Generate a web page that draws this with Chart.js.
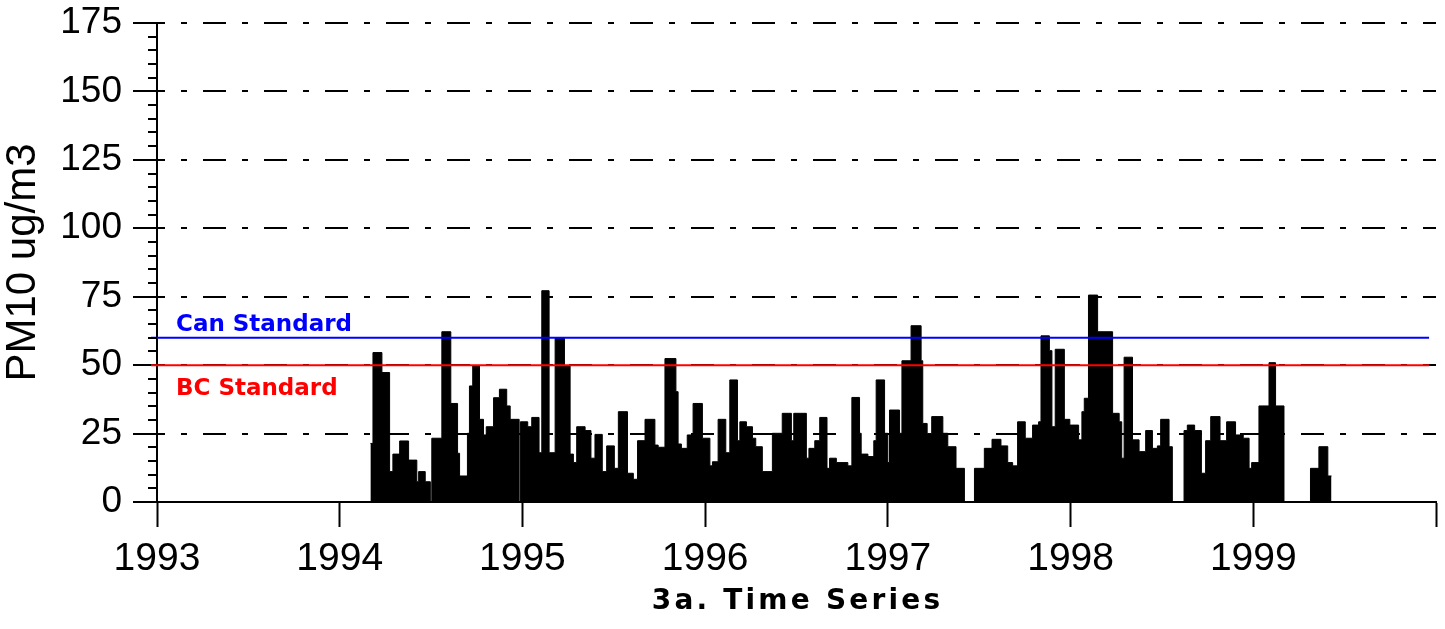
<!DOCTYPE html>
<html>
<head>
<meta charset="utf-8">
<title>PM10 Time Series</title>
<script src="https://cdn.jsdelivr.net/npm/chart.js@4.4.1/dist/chart.umd.min.js"></script>
<style>
  html, body { margin: 0; padding: 0; background: #ffffff; }
  #wrap { width: 1445px; height: 629px; }
</style>
</head>
<body>
<div id="wrap"><canvas id="pmChart" width="1445" height="629"></canvas></div>
<script>
// axis ticks
const yearTicks = [1993, 1994, 1995, 1996, 1997, 1998, 1999, 2000];
const yearLabels = ['1993', '1994', '1995', '1996', '1997', '1998', '1999', ''];
const pmTicks = [0, 25, 50, 75, 100, 125, 150, 175];

// standards (ug/m3)
const canStandard = 60;
const bcStandard = 50;
const standardSpan = [1992.967, 1999.962];

// start of each sampling step (decimal year) and its PM10 value
const stepStart = [
  1994.168, 1994.182, 1994.231, 1994.273, 1994.291, 1994.328, 1994.377, 1994.422, 1994.432, 1994.468,
  1994.496, 1994.504, 1994.559, 1994.608, 1994.645, 1994.656, 1994.699, 1994.710, 1994.728, 1994.765,
  1994.787, 1994.802, 1994.842, 1994.874, 1994.914, 1994.933, 1994.982, 1994.989, 1995.029, 1995.051,
  1995.091, 1995.106, 1995.146, 1995.179, 1995.230, 1995.261, 1995.279, 1995.297, 1995.343, 1995.375,
  1995.397, 1995.437, 1995.461, 1995.503, 1995.525, 1995.575, 1995.607, 1995.630, 1995.671, 1995.725,
  1995.743, 1995.780, 1995.840, 1995.852, 1995.870, 1995.902, 1995.934, 1995.985, 1996.026, 1996.040,
  1996.071, 1996.113, 1996.135, 1996.177, 1996.190, 1996.226, 1996.259, 1996.277, 1996.313, 1996.368,
  1996.422, 1996.472, 1996.485, 1996.554, 1996.568, 1996.600, 1996.627, 1996.667, 1996.681, 1996.718,
  1996.781, 1996.803, 1996.845, 1996.854, 1996.891, 1996.923, 1996.936, 1996.982, 1997.000, 1997.009,
  1997.064, 1997.077, 1997.127, 1997.182, 1997.191, 1997.215, 1997.240, 1997.301, 1997.328, 1997.373,
  1997.419, 1997.474, 1997.528, 1997.570, 1997.619, 1997.656, 1997.683, 1997.710, 1997.752, 1997.792,
  1997.825, 1997.838, 1997.884, 1997.898, 1997.916, 1997.966, 1997.996, 1998.044, 1998.062, 1998.075,
  1998.098, 1998.148, 1998.230, 1998.266, 1998.280, 1998.293, 1998.339, 1998.375, 1998.411, 1998.448,
  1998.475, 1998.493, 1998.539, 1998.557, 1998.621, 1998.639, 1998.679, 1998.716, 1998.739, 1998.767,
  1998.818, 1998.854, 1998.903, 1998.945, 1998.977, 1998.991, 1999.031, 1999.086, 1999.122, 1999.168,
  1999.313, 1999.359, 1999.408
];
const pm10 = [
  21.4, 54.6, 47.3, 11.1, 17.5, 22.3, 15.3, 7.4, 11.1, 7.4,
  0, 23.3, 62.2, 36.0, 17.8, 9.5, 25.1, 42.4, 49.7, 30.2,
  24.5, 27.5, 38.1, 41.2, 35.1, 30.2, 0, 29.3, 27.5, 30.9,
  18.0, 77.2, 18.0, 59.8, 49.7, 17.5, 14.4, 27.5, 26.1, 16.0,
  24.7, 11.1, 20.5, 12.3, 33.0, 10.5, 8.3, 22.4, 30.2, 20.8,
  20.0, 52.4, 40.3, 21.2, 19.6, 24.5, 36.0, 23.3, 13.2, 14.7,
  30.2, 18.0, 44.6, 22.4, 29.3, 27.5, 23.3, 20.2, 11.1, 25.1,
  32.4, 22.4, 32.4, 16.0, 19.6, 22.4, 30.9, 12.3, 16.0, 14.4,
  13.2, 38.2, 25.1, 17.5, 16.6, 22.4, 44.6, 25.1, 14.4, 33.6,
  25.1, 51.6, 64.4, 51.6, 28.7, 25.0, 31.2, 25.1, 20.2, 12.3,
  0, 12.3, 19.6, 22.9, 20.5, 14.4, 13.2, 29.3, 23.3, 28.1,
  29.3, 60.7, 55.3, 27.5, 55.8, 30.2, 28.1, 22.7, 33.0, 37.9,
  75.6, 62.2, 32.4, 29.3, 16.0, 52.9, 22.7, 18.4, 26.1, 19.6,
  20.5, 30.2, 20.2, 0, 26.1, 28.1, 26.1, 10.5, 22.4, 31.2,
  22.4, 29.3, 24.5, 23.3, 12.3, 14.4, 35.1, 50.9, 35.1, 0,
  12.3, 20.2, 9.5
];
const seriesEnd = 1999.428;

// stepped outline points: each value holds until the next step
const pmPoints = stepStart.map((x, i) => ({ x: x, y: pm10[i] }));
pmPoints.push({ x: seriesEnd, y: pm10[pm10.length - 1] });

// small ticks on the y axis every 5 units
const minorTicks = {
  id: 'minorTicks',
  afterDraw(chart) {
    const c = chart.ctx;
    const yScale = chart.scales.y;
    const left = chart.chartArea.left;
    c.save();
    c.strokeStyle = '#000';
    c.lineWidth = 2;
    c.beginPath();
    for (let v = 5; v < 175; v += 5) {
      if (pmTicks.includes(v)) continue;
      const py = Math.round(yScale.getPixelForValue(v));
      c.moveTo(left - 9, py);
      c.lineTo(left, py);
    }
    c.stroke();
    c.restore();
  }
};

// standard labels and the x axis title
const chartText = {
  id: 'chartText',
  afterDraw(chart) {
    const c = chart.ctx;
    const yScale = chart.scales.y;
    const area = chart.chartArea;
    c.save();
    c.textBaseline = 'middle';
    c.textAlign = 'left';
    c.font = 'bold 23px "DejaVu Sans", Verdana, sans-serif';
    c.fillStyle = '#0000ff';
    c.fillText('Can Standard', area.left + 19, yScale.getPixelForValue(canStandard) - 13);
    c.fillStyle = '#ff0000';
    c.fillText('BC Standard', area.left + 19, yScale.getPixelForValue(bcStandard) + 24);

    c.font = 'bold 28px "DejaVu Sans", Verdana, sans-serif';
    c.letterSpacing = '3.2px';
    c.fillStyle = '#000';
    c.textAlign = 'center';
    c.fillText('3a. Time Series', (area.left + area.right) / 2 + 1, 602);
    c.restore();
  }
};

const ctx = document.getElementById('pmChart').getContext('2d');
new Chart(ctx, {
  type: 'line',
  data: {
    datasets: [
      {
        label: 'Can Standard',
        data: [{ x: standardSpan[0], y: canStandard }, { x: standardSpan[1], y: canStandard }],
        borderColor: '#0000ff',
        borderWidth: 2,
        pointRadius: 0,
        fill: false,
        clip: false,
        order: 0
      },
      {
        label: 'BC Standard',
        data: [{ x: standardSpan[0], y: bcStandard }, { x: standardSpan[1], y: bcStandard }],
        borderColor: '#ff0000',
        borderWidth: 2,
        pointRadius: 0,
        fill: false,
        clip: false,
        order: 1
      },
      {
        label: 'PM10',
        data: pmPoints,
        stepped: 'before',
        borderColor: '#000',
        borderWidth: 1,
        backgroundColor: '#000',
        fill: 'origin',
        pointRadius: 0,
        order: 2
      }
    ]
  },
  options: {
    responsive: false,
    animation: false,
    events: [],
    layout: { padding: { top: 0, right: 3, left: 0, bottom: 0 } },
    plugins: {
      legend: { display: false },
      tooltip: { enabled: false }
    },
    scales: {
      x: {
        type: 'linear',
        min: yearTicks[0],
        max: yearTicks[yearTicks.length - 1],
        afterBuildTicks: function(scale) {
          scale.ticks = yearTicks.map(v => ({ value: v }));
        },
        afterFit: function(scale) {
          scale.height = 127;
        },
        ticks: {
          color: '#000',
          padding: 9,
          maxRotation: 0,
          autoSkip: false,
          font: { family: '"Liberation Sans", Arial, sans-serif', size: 39 },
          callback: function(value) {
            return yearLabels[yearTicks.indexOf(value)];
          }
        },
        grid: {
          drawOnChartArea: false,
          drawTicks: true,
          tickLength: 25,
          tickColor: '#000',
          tickWidth: 2
        },
        border: { display: true, color: '#000', width: 2 }
      },
      y: {
        min: pmTicks[0],
        max: pmTicks[pmTicks.length - 1],
        afterBuildTicks: function(scale) {
          scale.ticks = pmTicks.map(v => ({ value: v }));
        },
        afterFit: function(scale) {
          scale.width = 157;
          scale.paddingTop = 23;
          scale.paddingBottom = 0;
        },
        ticks: {
          color: '#000',
          padding: 11,
          font: { family: '"Liberation Sans", Arial, sans-serif', size: 37 },
          callback: function(value) {
            return String(value);
          }
        },
        grid: {
          color: '#000',
          lineWidth: 2,
          drawTicks: true,
          tickLength: 24,
          tickColor: '#000',
          tickWidth: 2,
          tickBorderDash: [0, 0]
        },
        border: {
          display: true,
          color: '#000',
          width: 2,
          dash: [23, 16, 6, 16],
          dashOffset: 16
        },
        title: {
          display: true,
          text: 'PM10 ug/m3',
          color: '#000',
          padding: 0,
          font: { family: '"Liberation Sans", Arial, sans-serif', size: 42, lineHeight: 1.1 }
        }
      }
    }
  },
  plugins: [minorTicks, chartText]
});
</script>
</body>
</html>
